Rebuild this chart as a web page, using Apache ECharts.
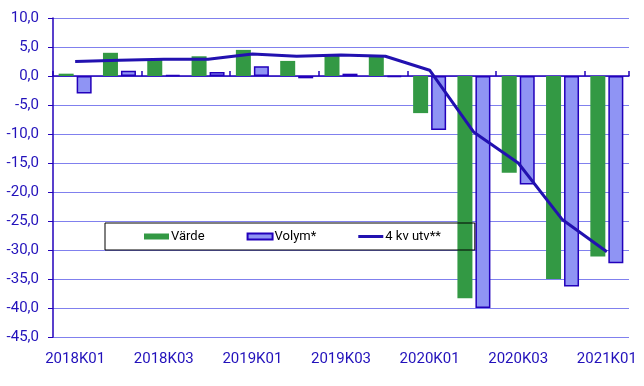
<!DOCTYPE html>
<html><head><meta charset="utf-8">
<script src="https://cdn.jsdelivr.net/npm/echarts@6/dist/echarts.min.js"></script>
<style>html,body{margin:0;padding:0;background:#fff}#c{width:644px;height:386px}</style>
</head><body><div id="c"></div>
<script>
const categories = ['2018K01','2018K02','2018K03','2018K04','2019K01','2019K02','2019K03','2019K04','2020K01','2020K02','2020K03','2020K04','2021K01'];
const varde = [0.4, 4.0, 2.9, 3.4, 4.5, 2.6, 3.5, 3.3, -6.4, -38.3, -16.7, -35.0, -31.1];
const volym = [-3.0, 0.9, 0.2, 0.7, 1.7, -0.4, 0.4, -0.2, -9.3, -40.0, -18.7, -36.3, -32.3];
const utv4kv = [2.5, 2.7, 2.9, 2.9, 3.8, 3.4, 3.6, 3.4, 1.0, -9.7, -15.0, -24.8, -30.3];
const seriesNames = ['Värde', 'Volym*', '4 kv utv**'];

const axisBlue = '#2200bb';
const textBlue = '#2211bb';
const chart = echarts.init(document.getElementById('c'));
chart.setOption({
  animation: false,
  grid: {left: 53, right: 15, top: 18, bottom: 49},
  legend: {
    data: [{name: seriesNames[0], icon: 'rect'}, {name: seriesNames[1], icon: 'rect'},
           {name: seriesNames[2], icon: 'path://M0,0H25V3H0Z'}],
    left: 105, top: 223,
    padding: [7, 34, 7, 39],
    itemGap: 42, itemWidth: 25, itemHeight: 6,
    borderColor: '#000', borderWidth: 1,
    textStyle: {fontFamily: 'Roboto', fontSize: 13, color: '#000', padding: [0, 0, 0, -3]}
  },
  xAxis: [{
    type: 'category', data: categories, position: 'bottom',
    axisLine: {show: false, onZero: false}, axisTick: {show: false},
    axisLabel: {interval: 1, color: textBlue, fontFamily: 'Roboto', fontSize: 15, margin: 15},
    splitLine: {show: false}
  }, {
    type: 'category', data: categories, position: 'bottom',
    axisLine: {show: true, onZero: true, lineStyle: {color: axisBlue, width: 1.5}},
    axisTick: {show: true, inside: true, interval: 1, length: 5, lineStyle: {color: axisBlue, width: 1.5}},
    axisLabel: {show: false}, splitLine: {show: false}
  }],
  yAxis: {
    type: 'value', min: -45, max: 10, interval: 5,
    axisLine: {show: true, lineStyle: {color: axisBlue, width: 1.5}},
    axisTick: {show: true, length: 5, lineStyle: {color: axisBlue}},
    axisLabel: {color: textBlue, fontFamily: 'Roboto', fontSize: 15, margin: 14,
      formatter: v => v.toFixed(1).replace('.', ',')},
    splitLine: {lineStyle: {color: '#8080ee', width: 1}}
  },
  series: [{
    name: seriesNames[0], type: 'bar', data: varde, xAxisIndex: 0,
    barWidth: 15, barGap: '20%',
    itemStyle: {color: '#339944'}
  }, {
    name: seriesNames[1], type: 'bar', data: volym, xAxisIndex: 0,
    barWidth: 15,
    itemStyle: {color: '#8f94f4', borderColor: '#2200bb', borderWidth: 1.5}
  }, {
    name: seriesNames[2], type: 'line', data: utv4kv, xAxisIndex: 0,
    symbol: 'none', z: 5,
    lineStyle: {color: '#2211b0', width: 3},
    itemStyle: {color: '#2211b0'}
  }]
});
</script></body></html>
